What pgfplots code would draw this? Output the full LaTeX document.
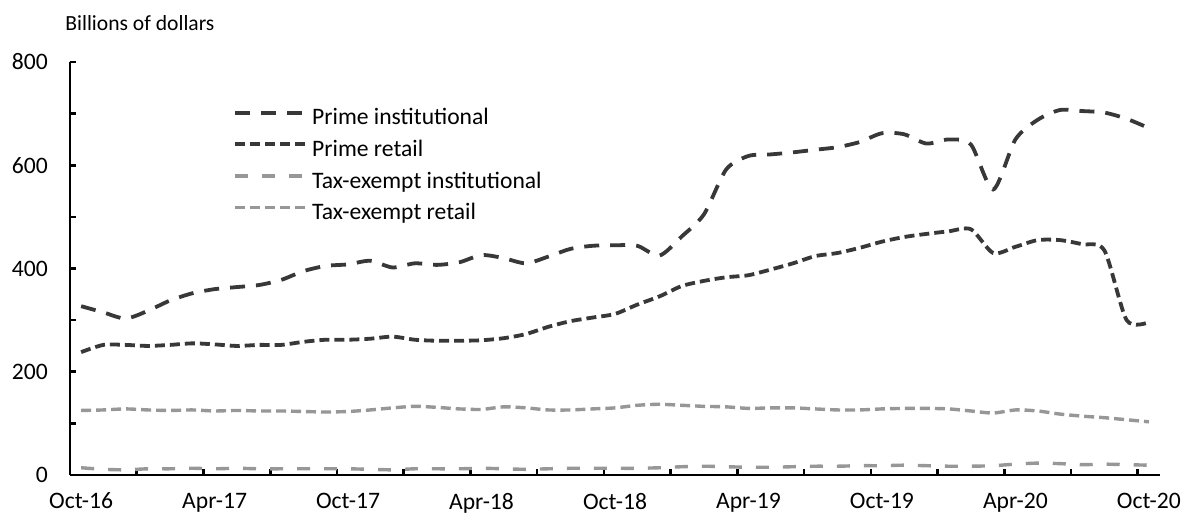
\documentclass[border=0pt]{standalone}
\usepackage{fontspec}
\setmainfont{Carlito}
\usepackage{pgfplots}
\usepackage{pgfplotstable}
\pgfplotsset{compat=1.18}

\definecolor{primegray}{HTML}{383838}
\definecolor{taxgray}{HTML}{979797}

% month index 0 = Oct-16 ... 48 = Oct-20
\pgfplotstableread{
m  pinst pret tinst tret
0  327   238  14    125
1  315   252  11    126
2  303   252  10    128
3  318   250  12    126
4  338   252  12    125
5  352   255  13    126
6  360   253  12    124
7  364   250  13    125
8  368   252  12    124
9  378   252  12    124
10 395   258  12    123
11 405   262  12    122
12 408   262  12    123
13 415   264  11    126
14 402   268  10    130
15 410   262  12    133
16 407   260  12    131
17 412   260  12    128
18 426   261  13    127
19 420   265  12    132
20 410   273  11    130
21 423   287  12    126
22 438   298  13    126
23 444   305  13    128
24 445   312  13    130
25 444   330  13    135
26 425   346  14    137
27 462   366  16    135
28 505   376  17    133
29 592   383  16    132
30 618   387  15    129
31 621   398  15    130
32 625   410  16    130
33 630   424  17    128
34 635   430  17    126
35 645   440  18    126
36 662   452  18    128
37 660   461  19    129
38 642   467  18    129
39 650   472  17    128
40 640   476  17    124
41 553   430  18    120
42 650   442  21    126
43 688   455  23    124
44 707   455  22    118
45 705   447  20    114
46 702   435  21    111
47 690   300  20    107
48 672   296  19    103
}\mmf

\begin{document}
\begin{tikzpicture}
\useasboundingbox (0,0) rectangle (592pt,258.5pt);
\node[anchor=west, inner sep=0pt, font=\fontsize{10.8pt}{13pt}\selectfont] at (32.5pt,247pt) {Billions of dollars};
\begin{axis}[
    at={(35pt,21pt)}, anchor=south west,
    scale only axis,
    width=545pt, height=206.5pt,
    xmin=-0.5, xmax=48.5,
    ymin=0, ymax=800,
    axis lines=left,
    axis line style={-, line width=1.4pt, black},
    tick style={line width=1.3pt, black},
    tick align=inside,
    major tick length=3pt,
    xtick={-0.5,2.5,...,47.5},
    xticklabels={},
    extra x ticks={0,6,...,48},
    extra x tick labels={Oct-16,Apr-17,Oct-17,Apr-18,Oct-18,Apr-19,Oct-19,Apr-20,Oct-20},
    extra x tick style={major tick length=0pt, xticklabel style={yshift=-5.5pt}},
    ytick={0,100,...,800},
    yticklabels={0,,200,,400,,600,,800},
    yticklabel style={xshift=-7.6pt},
    ticklabel style={font=\fontsize{11.8pt}{14pt}\selectfont},
    legend style={at={(0.1495,0.895)}, anchor=north west, draw=none, fill=none,
        inner sep=0pt, row sep=2.8pt, column sep=1.5pt,
        font=\fontsize{11.8pt}{14pt}\selectfont,
        nodes={inner sep=1pt, text height=8.6pt, text depth=2.4pt}},
    legend cell align=left,
    legend image code/.code={\draw[#1] (0pt,3pt) -- (35pt,3pt);},
    every axis plot/.append style={smooth, tension=0.45, line cap=butt},
]
\addplot[primegray, line width=1.9pt, dash pattern=on 7.5pt off 5.5pt] table[x=m, y=pinst] {\mmf};
\addplot[primegray, line width=1.9pt, dash pattern=on 5pt off 2.5pt] table[x=m, y=pret] {\mmf};
\addplot[taxgray, line width=1.7pt, dash pattern=on 6.5pt off 7pt] table[x=m, y=tinst] {\mmf};
\addplot[taxgray, line width=1.7pt, dash pattern=on 5pt off 2.5pt] table[x=m, y=tret] {\mmf};
\legend{Prime institutional, Prime retail, Tax-exempt institutional, Tax-exempt retail}
\end{axis}
\end{tikzpicture}
\end{document}
